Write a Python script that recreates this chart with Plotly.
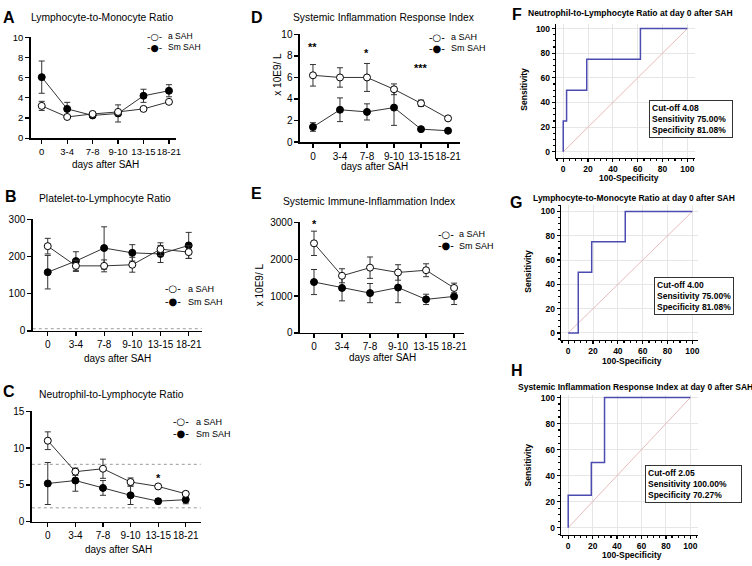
import plotly.graph_objects as go

W, H = 752, 566
FONT = "Liberation Sans, Arial, sans-serif"

# ---------------- data ----------------
days = ["0", "3-4", "7-8", "9-10", "13-15", "18-21"]
xidx = list(range(len(days)))

# A  Lymphocyte-to-Monocyte Ratio (mean, SEM)
lmr_a_mean = [3.2, 2.1, 2.4, 2.6, 2.9, 3.6]
lmr_a_sem = [0.45, 0.12, 0.12, 0.15, 0.12, 0.12]
lmr_sm_mean = [6.05, 2.9, 2.25, 2.45, 4.2, 4.7]
lmr_sm_sem = [1.6, 0.65, 0.12, 0.85, 0.65, 0.6]

# B  Platelet-to-Lymphocyte Ratio
plr_a_mean = [228, 175, 175, 178, 220, 212]
plr_a_sem = [21, 15, 16, 20, 17, 17]
plr_sm_mean = [158, 188, 223, 210, 207, 230]
plr_sm_sem = [45, 25, 57, 22, 23, 35]
plr_ref = [6]

# C  Neutrophil-to-Lymphocyte Ratio
nlr_a_mean = [11.0, 6.8, 7.2, 5.4, 4.8, 3.8]
nlr_a_sem = [1.2, 0.5, 1.3, 0.55, 0.15, 0.3]
nlr_sm_mean = [5.2, 5.6, 4.6, 3.6, 2.8, 3.0]
nlr_sm_sem = [2.85, 1.45, 1.0, 1.25, 0.35, 0.55]
nlr_ref = [7.8, 1.9]
nlr_sig_idx, nlr_sig_y, nlr_sig_txt = [4], [5.9], ["*"]

# D  Systemic Inflammation Response Index
siri_a_mean = [6.2, 6.0, 6.0, 4.9, 3.6, 2.2]
siri_a_sem = [1.0, 0.9, 1.3, 0.5, 0.3, 0.12]
siri_sm_mean = [1.4, 3.0, 2.8, 3.2, 1.2, 1.05]
siri_sm_sem = [0.4, 1.1, 0.75, 1.65, 0.1, 0.1]
siri_sig_idx, siri_sig_y, siri_sig_txt = [0, 2, 4], [8.8, 8.3, 6.9], ["**", "*", "***"]

# E  Systemic Immune-Inflammation Index
sii_a_mean = [2430, 1550, 1770, 1640, 1700, 1220]
sii_a_sem = [330, 190, 290, 210, 175, 130]
sii_sm_mean = [1380, 1220, 1080, 1230, 910, 990]
sii_sm_sem = [340, 350, 260, 410, 140, 220]
sii_sig_idx, sii_sig_y, sii_sig_txt = [0], [2950], ["*"]

# ROC curves (100-Specificity, Sensitivity)
nlr_roc_fpr = [0, 0, 2.7, 18.92, 62.16, 100]
nlr_roc_tpr = [0, 25, 50, 75, 100, 100]
lmr_roc_fpr = [0, 8.11, 18.92, 45.95, 100]
lmr_roc_tpr = [0, 50, 75, 100, 100]
siri_roc_fpr = [0, 0, 18.92, 29.73, 100]
siri_roc_tpr = [0, 25, 50, 100, 100]
chance = [0, 100]

roc_stats = {
    "F": ["Cut-off 4.08", "Sensitivity 75.00%", "Specificity 81.08%"],
    "G": ["Cut-off 4.00", "Sensitivity 75.00%", "Specificity 81.08%"],
    "H": ["Cut-off 2.05", "Sensitivity 100.00%", "Specificity 70.27%"],
}

# ---------------- geometry ----------------
panels = {
    "A": dict(n=1, x0=31, x1=177, y0=32, y1=135, xr=[-0.43, 5.27], yr=[0, 10], dt=2, fs=9.5),
    "B": dict(n=2, x0=33, x1=203, y0=218, y1=332, xr=[-0.53, 5.46], yr=[0, 300], dt=100, fs=10),
    "C": dict(n=3, x0=32, x1=202, y0=414, y1=527, xr=[-0.58, 5.54], yr=[0, 15], dt=5, fs=10),
    "D": dict(n=4, x0=302, x1=463, y0=29, y1=139, xr=[-0.48, 5.44], yr=[0, 10], dt=2, fs=10),
    "E": dict(n=5, x0=302, x1=467, y0=221, y1=334, xr=[-0.5, 5.35], yr=[0, 3000], dt=1000, fs=10),
    "F": dict(n=6, x0=560, x1=700, y0=18, y1=155, xr=[-5.6, 106.4], yr=[-4.8, 104], fs=8.5),
    "G": dict(n=7, x0=565, x1=703, y0=203, y1=341, xr=[-5.6, 104.8], yr=[-5.6, 105.6], fs=8.5),
    "H": dict(n=8, x0=565, x1=703, y0=397, y1=540, xr=[-5.7, 106.5], yr=[-5.3, 102.3], fs=8.5),
}


def px(x):
    return x / W


def py(y):
    return 1 - y / H


def ax_name(n, kind):
    return kind + ("" if n == 1 else str(n))


fig = go.Figure()
layout = dict(
    width=W, height=H, margin=dict(l=0, r=0, t=0, b=0),
    paper_bgcolor="white", plot_bgcolor="white", showlegend=False,
    font=dict(family=FONT, color="black"),
)

for key, p in panels.items():
    n = p["n"]
    roc = key in ("F", "G", "H")
    tf = dict(family=FONT, size=p["fs"], color="black",
              weight="bold" if roc else "normal")
    common = dict(showline=True, linecolor="black", linewidth=1.5, ticks="outside",
                  ticklen=3 if roc else 4, tickwidth=1.2, tickcolor="black", zeroline=False,
                  tickfont=tf, fixedrange=True, tickangle=0)
    xa = dict(common, domain=[px(p["x0"]), px(p["x1"])], range=p["xr"],
              anchor=ax_name(n, "y"))
    ya = dict(common, domain=[py(p["y1"]), py(p["y0"])], range=p["yr"],
              anchor=ax_name(n, "x"))
    if roc:
        grid = dict(showgrid=True, gridcolor="#e6e6e6", gridwidth=1)
        minor = dict(dtick=5, ticklen=2, tickcolor="black", ticks="outside", showgrid=False)
        xa.update(grid, tickmode="linear", tick0=0, dtick=20, minor=minor)
        ya.update(grid, tickmode="linear", tick0=0, dtick=20, minor=minor)
    else:
        xa.update(showgrid=False, tickmode="array", tickvals=xidx, ticktext=days)
        ya.update(showgrid=False, tickmode="linear", tick0=0, dtick=p["dt"])
    layout[ax_name(n, "xaxis")] = xa
    layout[ax_name(n, "yaxis")] = ya


def add_series(n, mean, sem, filled):
    fig.add_trace(go.Scatter(
        x=xidx, y=mean, mode="lines+markers",
        xaxis=ax_name(n, "x"), yaxis=ax_name(n, "y"),
        line=dict(color="#333333", width=1),
        marker=dict(symbol="circle", size=7, color="black" if filled else "white",
                    line=dict(color="black", width=1)),
        error_y=dict(type="data", array=sem, color="#333333", thickness=1, width=3),
        cliponaxis=False,
    ))


series = [
    ("A", lmr_a_mean, lmr_a_sem, lmr_sm_mean, lmr_sm_sem),
    ("B", plr_a_mean, plr_a_sem, plr_sm_mean, plr_sm_sem),
    ("C", nlr_a_mean, nlr_a_sem, nlr_sm_mean, nlr_sm_sem),
    ("D", siri_a_mean, siri_a_sem, siri_sm_mean, siri_sm_sem),
    ("E", sii_a_mean, sii_a_sem, sii_sm_mean, sii_sm_sem),
]
for key, am, ase, sm, sse in series:
    n = panels[key]["n"]
    add_series(n, sm, sse, True)
    add_series(n, am, ase, False)

rocs = [("F", nlr_roc_fpr, nlr_roc_tpr), ("G", lmr_roc_fpr, lmr_roc_tpr),
        ("H", siri_roc_fpr, siri_roc_tpr)]
for key, fpr, tpr in rocs:
    n = panels[key]["n"]
    fig.add_trace(go.Scatter(x=chance, y=chance, mode="lines",
                             xaxis=ax_name(n, "x"), yaxis=ax_name(n, "y"),
                             line=dict(color="#e8bcbc", width=1)))
    fig.add_trace(go.Scatter(x=fpr, y=tpr, mode="lines", line_shape="hv",
                             xaxis=ax_name(n, "x"), yaxis=ax_name(n, "y"),
                             line=dict(color="#4b4bb0", width=1.5), cliponaxis=False))

# dotted reference lines
shapes = []
for val in nlr_ref:
    shapes.append(dict(type="line", xref="x3 domain", x0=0, x1=1, yref="y3", y0=val, y1=val,
                       line=dict(color="#9a9a9a", width=1, dash="dot"), layer="below"))
for val in plr_ref:
    shapes.append(dict(type="line", xref="x2 domain", x0=0, x1=1, yref="y2", y0=val, y1=val,
                       line=dict(color="#9a9a9a", width=1, dash="dot"), layer="below"))
layout["shapes"] = shapes

ann = []


def text(t, x, y, size, xanchor="center", yanchor="middle", bold=False, angle=0, family=FONT):
    ann.append(dict(text=t, x=px(x), y=py(y), xref="paper", yref="paper", showarrow=False,
                    xanchor=xanchor, yanchor=yanchor, textangle=angle,
                    font=dict(family=family, size=size, color="black",
                              weight="bold" if bold else "normal")))


# panel letters
for letter, (lx, ly) in {"A": (9, 12), "B": (11, 195), "C": (9, 394), "D": (259, 12),
                         "E": (258, 192), "F": (520, 9), "G": (519, 201), "H": (520, 372)}.items():
    text(letter, lx, ly, 16, bold=True)

# titles
text("Lymphocyte-to-Monocyte Ratio", 29, 12, 10.3, xanchor="left")
text("Platelet-to-Lymphocyte Ratio", 37, 197, 10.3, xanchor="left")
text("Neutrophil-to-Lymphocyte Ratio", 37, 397, 10.3, xanchor="left")
text("Systemic Inflammation Response Index", 293, 12, 10.3, xanchor="left")
text("Systemic Immune-Inflammation Index", 283, 200, 10.3, xanchor="left")
text("Neutrophil-to-Lymphocyte Ratio at day 0 after SAH", 530, 7, 8.5, xanchor="left", bold=True)
text("Lymphocyte-to-Monocyte Ratio at day 0 after SAH", 535, 196, 8.5, xanchor="left", bold=True)
text("Systemic Inflammation Response Index at day 0 after SAH", 519, 389, 8.5, xanchor="left", bold=True)

# axis titles
for (x, y) in [(106, 162), (118, 360), (119, 555), (377, 164), (385, 359)]:
    text("days after SAH", x, y, 10)
text("x 10E9/ L", 279, 70, 10, angle=-90)
text("x 10E9/ L", 262, 285, 10, angle=-90)
for (x, y) in [(633, 176), (636, 363), (636, 561)]:
    text("100-Specificity", x, y, 8.5, bold=True)
for (x, y) in [(528, 85), (532, 271), (532, 469)]:
    text("Sensitivity", x, y, 8.5, bold=True, angle=-90)

# legends (symbol + label)
legend_pos = {"A": (156, 167, 31, 42, 8.5), "B": (174, 187, 289, 302, 9),
              "C": (182, 195, 425, 437, 9), "D": (440, 452, 32, 43, 9),
              "E": (449, 460, 233, 245, 9)}
for key, (sx, tx, r1, r2, fs) in legend_pos.items():
    text("-○-", sx, r1, fs + 1, family="DejaVu Sans")
    text("-●-", sx, r2, fs + 1, family="DejaVu Sans")
    text("a SAH", tx, r1, fs, xanchor="left")
    text("Sm SAH", tx, r2, fs, xanchor="left")

# significance marks (data coordinates)
for key, idxs, ys, txts in [("C", nlr_sig_idx, nlr_sig_y, nlr_sig_txt),
                            ("D", siri_sig_idx, siri_sig_y, siri_sig_txt),
                            ("E", sii_sig_idx, sii_sig_y, sii_sig_txt)]:
    n = panels[key]["n"]
    for i, yv, t in zip(idxs, ys, txts):
        ann.append(dict(text=t, x=xidx[i], y=yv, xref=ax_name(n, "x"), yref=ax_name(n, "y"),
                        showarrow=False, font=dict(family=FONT, size=11, color="black",
                                                   weight="bold")))

# ROC statistic boxes
box_pos = {"F": (653, 96, 78), "G": (658, 277, 74), "H": (649, 469, 91)}
for key, (bx, by, bw) in box_pos.items():
    ann.append(dict(text="<br>".join(roc_stats[key]), x=px(bx), y=py(by), xref="paper",
                    yref="paper", xanchor="left", yanchor="top", align="left",
                    width=bw, showarrow=False, bordercolor="#333333", borderwidth=1,
                    borderpad=2, bgcolor="white",
                    font=dict(family=FONT, size=8.5, color="black", weight="bold")))

layout["annotations"] = ann
fig.update_layout(**layout)
fig.write_html("out.html", config={"displayModeBar": False, "staticPlot": True},
               post_script="document.body.style.margin='0px';"
                           "document.body.style.overflow='hidden';")
